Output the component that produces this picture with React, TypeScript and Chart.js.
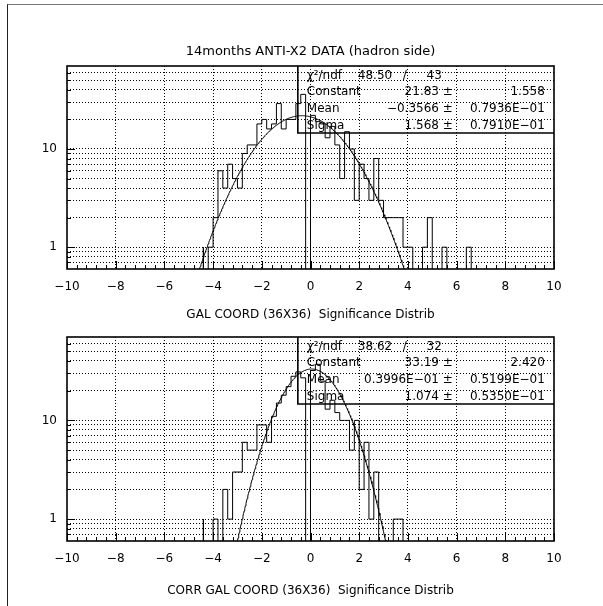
import React, { useEffect, useRef } from "react";
import { Chart, registerables } from "chart.js";
Chart.register(...registerables);

// ---------------- data ----------------
const BIN_WIDTH = 0.2;

const hist1Start = -4.4;
const hist1Counts = [
  1, 0, 1, 2, 6, 4, 7, 5, 4, 9,
  11, 11, 18, 20, 16, 18, 29, 16, 20, 20,
  29, 36, 0, 22, 19, 18, 13, 17, 11, 5,
  15, 10, 3, 7, 5, 3, 8, 3, 2, 2,
  2, 2, 1, 1, 0, 0, 1, 2, 0, 0,
  1, 0, 0, 0, 0, 1,
];
const fit1 = { constant: 21.83, mean: -0.3566, sigma: 1.568 };
const stats1Chi = ["48.50", "43"];
const stats1Rows = [
  ["Constant", "21.83 \u00b1", "1.558"],
  ["Mean", "\u22120.3566 \u00b1", "0.7936E\u221201"],
  ["Sigma", "1.568 \u00b1", "0.7910E\u221201"],
];

const hist2Start = -4.4;
const hist2Counts = [
  1, 0, 0, 1, 0, 2, 1, 3, 3, 6,
  5, 5, 9, 9, 6, 11, 15, 18, 22, 28,
  31, 27, 0, 32, 37, 25, 13, 16, 12, 10,
  10, 5, 10, 2, 6, 1, 3, 0, 0, 0,
  1, 1,
];
const fit2 = { constant: 33.19, mean: 0.03996, sigma: 1.074 };
const stats2Chi = ["38.62", "32"];
const stats2Rows = [
  ["Constant", "33.19 \u00b1", "2.420"],
  ["Mean", "0.3996E\u221201 \u00b1", "0.5199E\u221201"],
  ["Sigma", "1.074 \u00b1", "0.5350E\u221201"],
];

const X_TICKS = [-10, -8, -6, -4, -2, 0, 2, 4, 6, 8, 10];
const X_TICK_LABELS = ["\u221210", "\u22128", "\u22126", "\u22124", "\u22122", "0", "2", "4", "6", "8", "10"];
const Y_GRID = [0.7, 0.8, 0.9, 1, 2, 3, 4, 5, 6, 7, 8, 9, 10, 20, 30, 40, 50, 60];
const Y_LABELS: Record<string, string> = { "1": "1", "10": "10" };
const Y_MIN = 0.63;
const Y_MAX = 70;
const X_MIN = -10;
const X_MAX = 10;

const TITLE_TOP = "14months ANTI-X2 DATA (hadron side)";
const XTITLE_1 = "GAL COORD (36X36)  Significance Distrib";
const XTITLE_2 = "CORR GAL COORD (36X36)  Significance Distrib";

// ---------------- style ----------------
const FONT = "'DejaVu Sans', 'Liberation Sans', sans-serif";
const FS = 12;
const BELOW = 0.05; // empty bins are drawn below the axis floor

type PanelSpec = {
  start: number;
  counts: number[];
  fit: { constant: number; mean: number; sigma: number };
  chi: string[];
  rows: string[][];
  title?: string;
  xTitle: string;
  canvasTop: number;
  canvasH: number;
  areaTop: number; // px in canvas
  areaBottom: number;
};

const AREA_LEFT = 67;
const AREA_RIGHT = 554;

const decor = {
  id: "pawDecor",
  afterDraw(chart: any, _args: any, opts: any) {
    const { ctx, chartArea: ca } = chart;
    const xs = chart.scales.x;
    const ys = chart.scales.y;
    ctx.save();
    ctx.strokeStyle = "#000";
    ctx.fillStyle = "#000";
    ctx.lineWidth = 1;
    // inner ticks on x
    ctx.beginPath();
    for (let i = 0; i <= 50; i++) {
      const v = X_MIN + i * 0.4;
      const px = Math.round(xs.getPixelForValue(v)) + 0.5;
      const len = i % 5 === 0 ? 8 : 4;
      ctx.moveTo(px, ca.bottom);
      ctx.lineTo(px, ca.bottom - len);
    }
    // inner ticks on y
    for (const v of Y_GRID) {
      const py = Math.round(ys.getPixelForValue(v)) + 0.5;
      const len = v === 1 || v === 10 ? 8 : 4;
      ctx.moveTo(ca.left, py);
      ctx.lineTo(ca.left + len, py);
    }
    ctx.stroke();
    // frame
    ctx.lineWidth = 1.6;
    ctx.strokeRect(ca.left, ca.top, ca.right - ca.left, ca.bottom - ca.top);

    // stats box
    const bl = ca.left + 0.474 * (ca.right - ca.left);
    const bh = 67;
    ctx.lineWidth = 1.6;
    ctx.beginPath();
    ctx.moveTo(bl, ca.top);
    ctx.lineTo(bl, ca.top + bh);
    ctx.lineTo(ca.right, ca.top + bh);
    ctx.stroke();

    ctx.font = `${FS}px ${FONT}`;
    ctx.textBaseline = "middle";
    const rowY = (i: number) => ca.top + 9.5 + i * 16.8;
    ctx.textAlign = "left";
    ctx.fillText("\u03c7\u00b2/ndf", bl + 9, rowY(0));
    ctx.fillText(opts.chi[0], bl + 60, rowY(0));
    ctx.textAlign = "center";
    ctx.fillText("/", bl + 107, rowY(0));
    ctx.textAlign = "right";
    ctx.fillText(opts.chi[1], bl + 144, rowY(0));
    opts.rows.forEach((r: string[], i: number) => {
      const y = rowY(i + 1);
      ctx.textAlign = "left";
      ctx.fillText(r[0], bl + 9, y);
      ctx.textAlign = "right";
      ctx.fillText(r[1], bl + 155, y);
      ctx.fillText(r[2], bl + 247, y);
    });

    if (opts.title) {
      ctx.font = `13px ${FONT}`;
      ctx.textAlign = "center";
      ctx.fillText(opts.title, (ca.left + ca.right) / 2, ca.top - 14);
    }
    ctx.restore();
  },
};

function buildConfig(p: PanelSpec): any {
  const hist: { x: number; y: number }[] = [{ x: p.start, y: BELOW }];
  p.counts.forEach((c, i) => {
    hist.push({ x: p.start + i * BIN_WIDTH, y: c > 0 ? c : BELOW });
  });
  hist.push({ x: p.start + p.counts.length * BIN_WIDTH, y: BELOW });

  const fitPts: { x: number; y: number }[] = [];
  for (let i = 0; i <= 800; i++) {
    const x = X_MIN + i * 0.025;
    const z = (x - p.fit.mean) / p.fit.sigma;
    const y = p.fit.constant * Math.exp(-0.5 * z * z);
    if (y > 0.3) fitPts.push({ x, y });
  }

  return {
    type: "line",
    data: {
      datasets: [
        {
          data: hist,
          stepped: "after",
          borderColor: "#000",
          borderWidth: 1,
          pointRadius: 0,
          fill: false,
        },
        {
          data: fitPts,
          borderColor: "#000",
          borderWidth: 1,
          pointRadius: 0,
          tension: 0,
          fill: false,
        },
      ],
    },
    options: {
      responsive: false,
      animation: false,
      devicePixelRatio: 1,
      parsing: false,
      normalized: true,
      events: [],
      layout: {
        padding: { top: p.areaTop, right: 603 - AREA_RIGHT, left: 0, bottom: 0 },
      },
      plugins: {
        legend: { display: false },
        tooltip: { enabled: false },
        title: { display: false },
        pawDecor: { chi: p.chi, rows: p.rows, title: p.title },
      },
      scales: {
        x: {
          type: "linear",
          min: X_MIN,
          max: X_MAX,
          afterBuildTicks: (s: any) => {
            s.ticks = X_TICKS.map((v) => ({ value: v }));
          },
          afterFit: (s: any) => {
            s.height = p.canvasH - p.areaBottom;
          },
          ticks: {
            autoSkip: false,
            maxRotation: 0,
            padding: 11,
            color: "#000",
            font: { family: FONT, size: FS },
            callback: (v: number) => {
              const i = X_TICKS.indexOf(v);
              return i >= 0 ? X_TICK_LABELS[i] : "";
            },
          },
          grid: {
            drawTicks: false,
            lineWidth: 1,
            color: (c: any) =>
              c.tick && (c.tick.value === X_MIN || c.tick.value === X_MAX) ? "rgba(0,0,0,0)" : "#000",
          },
          border: { display: false, dash: [1, 2] },
          title: {
            display: true,
            text: p.xTitle,
            color: "#000",
            font: { family: FONT, size: FS, lineHeight: 1.2 },
            padding: { top: 0, bottom: 8 },
          },
        },
        y: {
          type: "logarithmic",
          min: Y_MIN,
          max: Y_MAX,
          afterBuildTicks: (s: any) => {
            s.ticks = Y_GRID.map((v) => ({ value: v }));
          },
          afterFit: (s: any) => {
            s.width = AREA_LEFT;
          },
          ticks: {
            autoSkip: false,
            padding: 10,
            color: "#000",
            font: { family: FONT, size: FS },
            callback: (v: number) => Y_LABELS[String(v)] ?? "",
          },
          grid: {
            drawTicks: false,
            lineWidth: 1,
            color: "#000",
          },
          border: { display: false, dash: [1, 2] },
        },
      },
    },
    plugins: [decor],
  };
}

function Panel({ spec }: { spec: PanelSpec }) {
  const ref = useRef<HTMLCanvasElement | null>(null);
  useEffect(() => {
    if (!ref.current) return;
    const chart = new Chart(ref.current, buildConfig(spec));
    return () => chart.destroy();
  }, [spec]);
  return (
    <canvas
      ref={ref}
      width={603}
      height={spec.canvasH}
      style={{ position: "absolute", left: 0, top: spec.canvasTop, width: 603, height: spec.canvasH }}
    />
  );
}

const panel1: PanelSpec = {
  start: hist1Start,
  counts: hist1Counts,
  fit: fit1,
  chi: stats1Chi,
  rows: stats1Rows,
  title: TITLE_TOP,
  xTitle: XTITLE_1,
  canvasTop: 0,
  canvasH: 330,
  areaTop: 66,
  areaBottom: 269,
};

const panel2: PanelSpec = {
  start: hist2Start,
  counts: hist2Counts,
  fit: fit2,
  chi: stats2Chi,
  rows: stats2Rows,
  xTitle: XTITLE_2,
  canvasTop: 290,
  canvasH: 316,
  areaTop: 47,
  areaBottom: 251,
};

export default function App() {
  return (
    <div
      style={{
        position: "absolute",
        left: 0,
        top: 0,
        width: 603,
        height: 606,
        background: "#fff",
        overflow: "hidden",
      }}
    >
      <Panel spec={panel1} />
      <Panel spec={panel2} />
      <div
        style={{
          position: "absolute",
          left: 7,
          top: 4,
          width: 603,
          height: 610,
          borderLeft: "1px solid #222",
          borderTop: "1px solid #777",
          pointerEvents: "none",
        }}
      />
    </div>
  );
}
